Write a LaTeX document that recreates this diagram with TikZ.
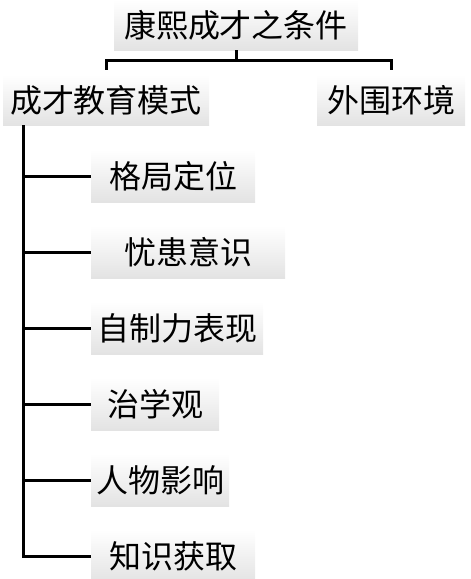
\documentclass[tikz,border=0pt]{standalone}
\usepackage{fontspec}
\newfontfamily\cjk{Noto Sans CJK SC}
\usepackage{tikz}
\usetikzlibrary{trees}

\begin{document}
\begin{tikzpicture}
  [x=1pt,y=1pt,
   topic/.style={rectangle,top color=white,middle color=white,bottom color=black!11,
       font=\cjk\fontsize{32}{38}\selectfont,minimum height=50pt,inner xsep=10pt},
   item/.style={topic,anchor=west,minimum height=52pt,inner xsep=18pt},
   edge from parent/.style={black,line width=3pt,draw},
   level 1/.style={sibling distance=285pt,level distance=75pt,
       edge from parent path={(\tikzparentnode.south) -- ++(0,-10) -| ([yshift=5pt]\tikzchildnode.north)}},
   level 2/.style={grow via three points={one child at (-15,-76) and two children at (-15,-76) and (-15,-152)},
       edge from parent path={([xshift=21pt]\tikzparentnode.south west) |- (\tikzchildnode.west)}}]
		\useasboundingbox (0,0) rectangle (471,-579);
		\node (K) [topic] at (236,-25) {康熙成才之条件}
		    child {node (K1) [topic,xshift=12.5pt,inner xsep=7pt] {成才教育模式}
			child {node (K11) [item] {格局定位}}
			child {node (K12) [item,inner xsep=33pt] {忧患意识}}
			child {node (K13) [item,inner xsep=6pt] {自制力表现}}
			child {node (K14) [item,inner xsep=16pt] {治学观}}
			child {node (K15) [item,inner xsep=5pt] {人物影响}}
			child {node (K16) [item] {知识获取}}
		    }
		    child {node (K2) [topic,xshift=12.5pt] {外围环境}};
\end{tikzpicture}
\end{document}
